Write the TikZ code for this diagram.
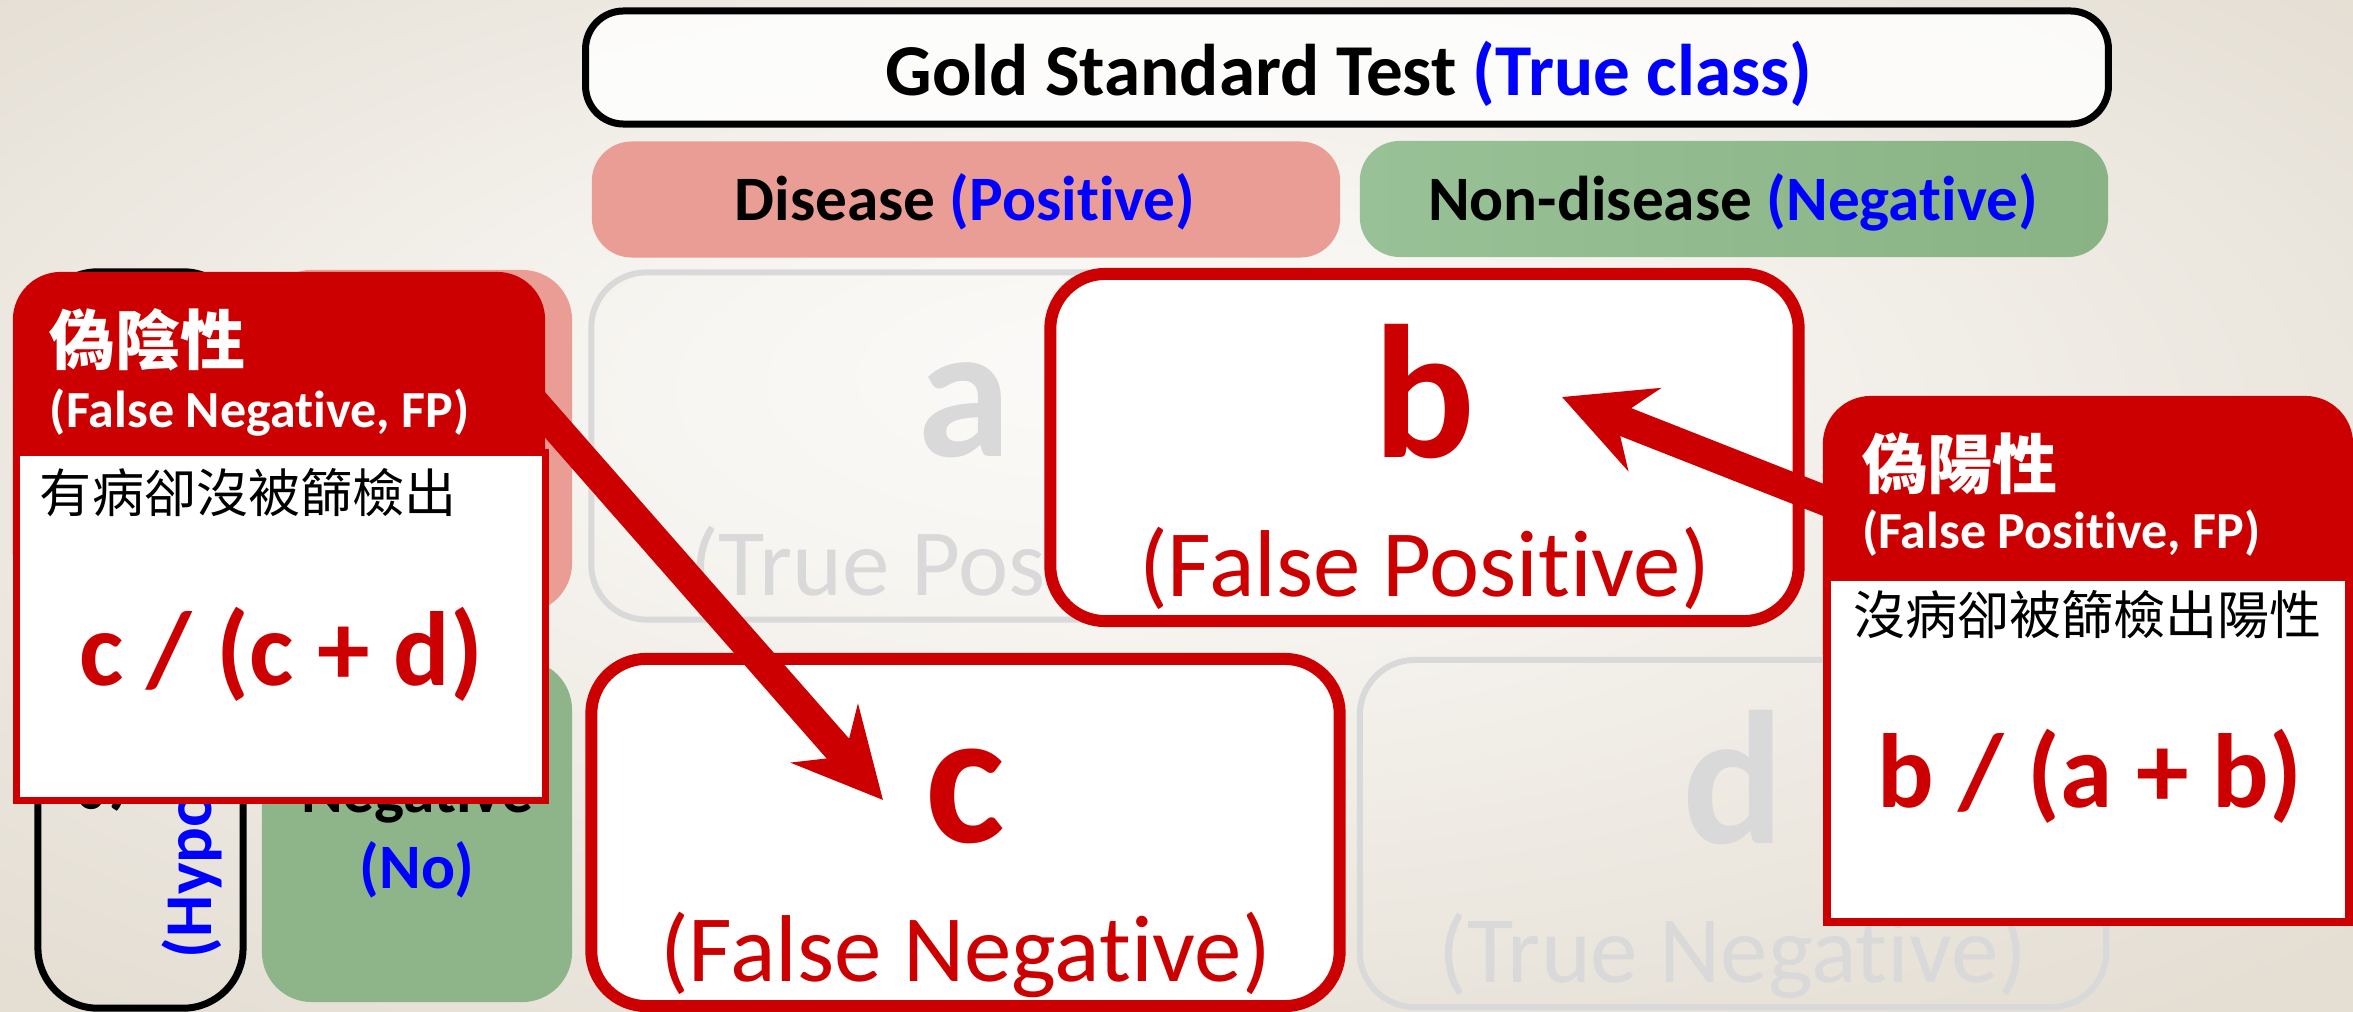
\documentclass[tikz,border=0pt]{standalone}
\usepackage{fontspec}
\setmainfont{Carlito}[Ligatures={NoCommon}]
\newfontfamily\cjk{Noto Sans CJK TC}
\usetikzlibrary{arrows.meta}
\definecolor{calred}{HTML}{CC0000}
\definecolor{tblue}{HTML}{0000FF}
\definecolor{lgray}{HTML}{D9D9D9}
\definecolor{salmon}{HTML}{E99D94}
\definecolor{grnL}{HTML}{98C197}
\definecolor{grnR}{HTML}{89B384}
\definecolor{grn}{HTML}{8DB589}
\definecolor{bgin}{HTML}{FBFAF8}
\definecolor{bgmid}{HTML}{F7F5F1}
\definecolor{bgout}{HTML}{E4DED3}
\pgfdeclareradialshading{bgshade}{\pgfpoint{-2bp}{7bp}}{color(0bp)=(bgin); color(10bp)=(bgmid); color(35bp)=(bgout); color(50bp)=(bgout)}
\begin{document}
\begin{tikzpicture}[x=0.01cm,y=-0.01cm,
  txt/.style={inner sep=0pt, outer sep=0pt},
  cellgray/.style={draw=lgray, line width=0.06cm, rounded corners=0.55cm, inner sep=0pt, minimum width=7.46cm, minimum height=3.47cm},
  cellred/.style={draw=calred, fill=white, line width=0.12cm, rounded corners=0.55cm, inner sep=0pt, minimum width=7.48cm, minimum height=3.47cm},
  bigletter/.style={txt, font=\fontsize{54}{60}\selectfont\bfseries},
  celllabel/.style={txt, font=\fontsize{27}{32}\selectfont},
  hdr/.style={inner sep=0pt, rounded corners=0.4cm, minimum width=7.48cm, minimum height=1.16cm},
  hdrtext/.style={txt, anchor=base, font=\fontsize{18}{22}\selectfont\bfseries},
  rowtext/.style={txt, font=\fontsize{18}{22}\selectfont\bfseries},
  bigarrow/.style={calred, line width=0.3cm, -{Stealth[length=0.88cm, width=0.88cm, inset=0.3cm]}},
  calhead/.style={fill=calred, rounded corners=0.48cm, inner sep=0pt},
  calbody/.style={draw=calred, fill=white, inner sep=0pt},
  zhhead/.style={txt, anchor=west, text=white, font=\cjk\fontsize{18.5}{22}\selectfont\bfseries},
  enhead/.style={txt, anchor=base west, text=white, font=\fontsize{14.8}{18}\selectfont\bfseries},
  zhbody/.style={txt, anchor=west, font=\cjk\fontsize{14.8}{17}\selectfont},
  formula/.style={txt, anchor=base, text=calred, font=\fontsize{30}{36}\selectfont\bfseries}
]
\useasboundingbox (0,0) rectangle (2353,1012);
\shade[shading=bgshade] (0,0) rectangle (2353,1012);

% column headers
\node[draw=black, line width=0.07cm, fill=white, fill opacity=0.85, rounded corners=0.38cm, minimum width=15.22cm, minimum height=1.13cm, inner sep=0pt] (gold) at (1347,67.5) {};
\node[txt, anchor=base, font=\fontsize{20.8}{25}\selectfont\bfseries] (goldt) at (1349,95) {Gold Standard Test \textcolor{tblue}{(True class)}};
\node[hdr, fill=salmon] (dis) at (966,199.5) {};
\node[hdrtext] (dist) at (965,220) {Disease \textcolor{tblue}{(Positive)}};
\node[hdr, left color=grnL, right color=grnR] (nondis) at (1734,199) {};
\node[hdrtext] (nondist) at (1733,220) {Non-disease \textcolor{tblue}{(Negative)}};

% row headers
\node[draw=black, line width=0.07cm, rounded corners=0.6cm, minimum width=2.05cm, minimum height=7.36cm, inner sep=0pt] (rowhead) at (140.5,640) {};
\node[txt, rotate=90, anchor=base west, font=\fontsize{19}{22}\selectfont\bfseries] (scr) at (122,812) {Screening};
\node[txt, rotate=90, anchor=base west, text=tblue, font=\fontsize{19}{22}\selectfont\bfseries] (hyp) at (211,958) {(Hypothesized class)};
\node[fill=salmon, rounded corners=0.5cm, minimum width=3.10cm, minimum height=3.43cm, inner sep=0pt] (rowpos) at (417,441.5) {};
\node[fill=grn, rounded corners=0.5cm, minimum width=3.10cm, minimum height=3.42cm, inner sep=0pt] (rowneg) at (417,831) {};
\node[rowtext, anchor=base] (negt) at (417,812) {Negative};
\node[rowtext, anchor=base, text=tblue] (nott) at (417,888) {(No)};

% cells
\node[cellgray] (cella) at (964.5,446) {};
\node[bigletter, text=lgray, anchor=base] (la) at (964.5,456) {a};
\node[celllabel, text=lgray, anchor=base] (ta) at (964.5,595) {(True Positive)};
\node[cellgray] (celld) at (1733,833.5) {};
\node[bigletter, text=lgray, anchor=base] (ld) at (1733,843) {d};
\node[celllabel, text=lgray, anchor=base] (td) at (1733,982) {(True Negative)};
\node[cellred] (cellb) at (1424.5,447.5) {};
\node[bigletter, text=calred, anchor=base] (lb) at (1424.5,457) {b};
\node[celllabel, text=calred, anchor=base] (tb) at (1424.5,596) {(False Positive)};
\node[cellred] (cellc) at (965.5,832.5) {};
\node[bigletter, text=calred, anchor=base] (lc) at (965.5,842) {c};
\node[celllabel, text=calred, anchor=base] (tc) at (965.5,981) {(False Negative)};

% arrows
\coordinate (fnout) at (503,367);
\coordinate (ctip) at (883,800);
\coordinate (fpout) at (1915,536);
\coordinate (btip) at (1562,397);
\draw[bigarrow] (fnout) -- (ctip);
\draw[bigarrow] (fpout) -- (btip);

% false negative callout
\node[calhead, minimum width=5.32cm, minimum height=3.28cm] (fnhead) at (279,436) {};
\node[calbody, line width=0.07cm, minimum width=5.29cm, minimum height=3.48cm] (fnbody) at (281,626.5) {};
\node[zhhead] (fnzh) at (50,340) {偽陰性};
\node[enhead] (fnen) at (50,427) {(False Negative, FP)};
\node[zhbody] (fndesc) at (40,493) {有病卻沒被篩檢出};
\node[formula] (fnform) at (281,685) {c / (c + d)};

% false positive callout
\node[calhead, minimum width=5.30cm, minimum height=3.04cm] (fphead) at (2088,548) {};
\node[calbody, line width=0.08cm, minimum width=5.22cm, minimum height=3.45cm] (fpbody) at (2088,749.5) {};
\node[zhhead] (fpzh) at (1862,464) {偽陽性};
\node[enhead] (fpen) at (1862,548) {(False Positive, FP)};
\node[zhbody] (fpdesc) at (1853,615) {沒病卻被篩檢出陽性};
\node[formula] (fpform) at (2090,807) {b / (a + b)};
\end{tikzpicture}
\end{document}
